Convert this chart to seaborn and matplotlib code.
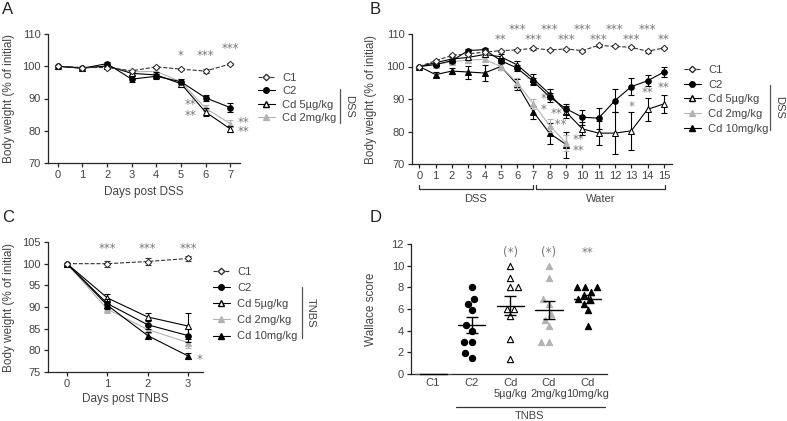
import numpy as np
import pandas as pd
import matplotlib
matplotlib.use("Agg")
import matplotlib.pyplot as plt
import matplotlib.transforms as mtransforms
from matplotlib.lines import Line2D
import seaborn as sns

# ---- data ----
# A: DSS, body weight (% of initial), mean and SEM
A_DAYS = [0, 1, 2, 3, 4, 5, 6, 7]
A_C1 = [100, 99.6, 99.6, 98.6, 99.8, 99.1, 98.5, 100.7]
A_C1_SEM = [0, 0.3, 0.3, 0.3, 0.3, 0.4, 0.5, 0.4]
A_C2 = [100, 99.4, 100.8, 96.0, 96.9, 95.2, 90.2, 87.2]
A_C2_SEM = [0, 0.4, 0.5, 1.0, 0.8, 0.8, 1.0, 1.5]
A_CD5 = [100, 99.4, 100.1, 97.8, 97.3, 94.6, 85.8, 80.6]
A_CD5_SEM = [0, 0.4, 0.4, 0.6, 0.8, 0.9, 1.3, 1.0]
A_CD2 = [100, 99.5, 100.0, 98.3, 98.4, 95.2, 87.0, 82.2]
A_CD2_SEM = [0, 0.3, 0.4, 0.5, 0.6, 0.8, 1.0, 1.0]

# B: DSS then water
B_DAYS = list(range(16))
B_C1 = [100, 101.8, 103.4, 103.9, 104.4, 104.9, 105.1, 105.6, 105.1, 105.4,
        104.9, 106.5, 106.2, 105.9, 104.7, 105.7]
B_C1_SEM = [0, 0.3, 0.3, 0.3, 0.3, 0.3, 0.3, 0.4, 0.3, 0.3, 0.3, 0.4, 0.3, 0.3, 0.4, 0.4]
B_C2 = [100, 100.6, 101.8, 104.9, 105.2, 101.8, 99.5, 95.4, 90.6, 87.0,
        84.4, 84.1, 89.5, 93.8, 95.6, 98.3]
B_C2_SEM = [0, 0.5, 0.6, 0.6, 0.6, 0.8, 1.0, 1.2, 1.4, 1.6, 2.3, 3.2, 3.5, 2.6, 1.7, 1.5]
B_CD5 = [100, 101.2, 102.3, 102.8, 103.7, 103.0, 100.5, 96.2, 91.5, 86.0,
         80.8, 79.5, 79.5, 80.2, 86.8, 88.5]
B_CD5_SEM = [0, 0.5, 0.5, 0.6, 0.7, 0.8, 1.2, 1.5, 1.5, 1.8, 2.0, 3.8, 6.5, 5.8, 3.5, 2.7]
B_CD2 = [100, 100.6, 101.5, 102.0, 102.2, 100.0, 95.0, 88.5, 81.8, 76.5]
B_CD2_SEM = [0, 0.5, 0.6, 0.8, 0.8, 0.8, 1.5, 1.5, 2.0, 2.5]
B_CD10 = [100, 97.5, 98.6, 98.3, 98.0, 100.0, 94.5, 86.0, 79.4, 76.0]
B_CD10_SEM = [0, 0.8, 1.0, 2.0, 2.5, 1.0, 1.8, 2.0, 3.2, 4.0]

# C: TNBS
C_DAYS = [0, 1, 2, 3]
C_C1 = [100, 100.0, 100.5, 101.2]
C_C1_SEM = [0, 0.7, 0.8, 0.5]
C_C2 = [100, 90.8, 85.9, 83.4]
C_C2_SEM = [0, 1.0, 1.0, 1.5]
C_CD5 = [100, 92.1, 87.7, 85.6]
C_CD5_SEM = [0, 1.0, 1.0, 3.0]
C_CD2 = [100, 89.5, 84.8, 81.8]
C_CD2_SEM = [0, 0.8, 0.8, 1.3]
C_CD10 = [100, 90.4, 83.4, 78.7]
C_CD10_SEM = [0, 0.8, 0.8, 0.8]

# D: Wallace score, individual animals
D_GROUPS = ["C1", "C2", "Cd5", "Cd2", "Cd10"]
D_TICKS = ["C1", "C2", "Cd\n5µg/kg", "Cd\n2mg/kg", "Cd\n10mg/kg"]
D_C1 = [0, 0, 0, 0, 0, 0]
D_C2 = [8.0, 6.95, 6.5, 5.9, 4.5, 4.0, 3.0, 3.0, 1.9, 1.5]
D_CD5 = [10.0, 8.9, 8.0, 8.0, 6.0, 6.0, 5.4, 3.2, 1.4]
D_CD2 = [10.0, 8.9, 6.9, 6.5, 5.5, 5.0, 4.4, 3.0, 3.0]
D_CD10 = [8.0, 8.0, 8.0, 7.6, 7.3, 6.9, 6.9, 6.5, 5.9, 4.4]

LABELS = {"C1": "C1", "C2": "C2", "Cd5": "Cd 5µg/kg",
          "Cd2": "Cd 2mg/kg", "Cd10": "Cd 10mg/kg"}

# ---- styling ----
W, H = 787, 421
TXT = "#444444"
STAR = "#777777"
GREY = "#b3b3b3"
FS = 8

STYLES = {
    "C1": dict(color="#333333", marker="D", markersize=3.3, markerfacecolor="white",
               markeredgecolor="#333333", linestyle="--"),
    "C2": dict(color="black", marker="o", markersize=4, markerfacecolor="black",
               markeredgecolor="black", linestyle="-"),
    "Cd5": dict(color="black", marker="^", markersize=4.5, markerfacecolor="white",
                markeredgecolor="black", linestyle="-"),
    "Cd2": dict(color=GREY, marker="^", markersize=4.5, markerfacecolor=GREY,
                markeredgecolor=GREY, linestyle="-"),
    "Cd10": dict(color="black", marker="^", markersize=4.5, markerfacecolor="black",
                 markeredgecolor="black", linestyle="-"),
}

sns.set_style("ticks")
plt.rcParams["font.family"] = ["Liberation Sans", "DejaVu Sans"]
plt.rcParams["axes.linewidth"] = 0.9
plt.rcParams["xtick.major.width"] = 0.9
plt.rcParams["ytick.major.width"] = 0.9
plt.rcParams["xtick.major.size"] = 3
plt.rcParams["ytick.major.size"] = 3

fig = plt.figure(figsize=(W / 100, H / 100), dpi=100)


def add_axes(left, top, right, bottom):
    return fig.add_axes([left / W, 1 - bottom / H, (right - left) / W, (bottom - top) / H])


def fig_xy(x, y):
    return x / W, 1 - y / H


def draw_series(ax, days, vals, sems, key, z):
    st = STYLES[key]
    sns.lineplot(x=days, y=vals, ax=ax, label=LABELS[key], linewidth=0.8,
                 zorder=z, legend=False, **st)
    ax.errorbar(days, vals, yerr=sems, fmt="none", ecolor=st["color"],
                elinewidth=0.8, capsize=2.5, capthick=0.8, zorder=z - 0.5)


def style_axes(ax, ylab_x, xlab_y=None):
    sns.despine(ax=ax)
    ax.tick_params(labelsize=FS, labelcolor=TXT, pad=2)
    ax.set_ylabel("Body weight (% of initial)", fontsize=8.5, color=TXT)
    ax.yaxis.set_label_coords(ylab_x, 0.5)
    if xlab_y is not None:
        ax.xaxis.set_label_coords(0.5, xlab_y)


def stars(ax, items, ha="center", ls=0.75):
    # stacked marks are one multi-line text so the rows sit tight
    for txt, x, y in items:
        ax.text(x, y, txt, ha=ha, va="center", fontsize=8.5, color=STAR,
                family="DejaVu Sans", linespacing=ls, multialignment="left",
                clip_on=False)


def legend(ax, keys, x, y, spacing):
    handles = []
    for k in keys:
        st = STYLES[k]
        handles.append(Line2D([], [], lw=0.8, **st))
    ax.legend(handles=handles, labels=[LABELS[k] for k in keys], loc="upper left",
              bbox_to_anchor=fig_xy(x, y), bbox_transform=fig.transFigure,
              frameon=False, fontsize=FS, handlelength=1.5, handletextpad=0.7,
              labelspacing=spacing, borderpad=0, borderaxespad=0, labelcolor=TXT)


def side_bracket(x, y0, y1, text):
    fig.add_artist(Line2D([x / W, x / W], [1 - y0 / H, 1 - y1 / H],
                          transform=fig.transFigure, color="#555555", lw=0.9))
    fx, fy = fig_xy(x + 9, (y0 + y1) / 2)
    fig.text(fx, fy, text, rotation=270, ha="center", va="center",
             fontsize=FS, color=TXT)


# ---- A ----
axA = add_axes(48, 34, 240, 163)
draw_series(axA, A_DAYS, A_CD2, A_CD2_SEM, "Cd2", 3)
draw_series(axA, A_DAYS, A_CD5, A_CD5_SEM, "Cd5", 4)
draw_series(axA, A_DAYS, A_C2, A_C2_SEM, "C2", 5)
draw_series(axA, A_DAYS, A_C1, A_C1_SEM, "C1", 6)
axA.set_xlim(-0.4, 7.4)
axA.set_ylim(70, 110)
axA.set_xticks(A_DAYS)
axA.set_yticks([70, 80, 90, 100, 110])
axA.set_xlabel("Days post DSS", fontsize=8.5, color=TXT)
style_axes(axA, -0.17, -0.18)
stars(axA, [("*", 5, 103.3), ("***", 6, 103.3), ("***", 7, 105.5),
            ("**\n**", 5.37, 86.4)], ls=0.85)
stars(axA, [("**\n**", 7.55, 81.2)], ls=0.65)
legend(axA, ["C1", "C2", "Cd5", "Cd2"], 258, 73, 0.3)
side_bracket(340, 89, 123, "DSS")

# ---- B ----
axB = add_axes(412, 34, 672, 164)
draw_series(axB, B_DAYS[:len(B_CD10)], B_CD10, B_CD10_SEM, "Cd10", 3)
draw_series(axB, B_DAYS[:len(B_CD2)], B_CD2, B_CD2_SEM, "Cd2", 3.5)
draw_series(axB, B_DAYS, B_CD5, B_CD5_SEM, "Cd5", 4)
draw_series(axB, B_DAYS, B_C2, B_C2_SEM, "C2", 5)
draw_series(axB, B_DAYS, B_C1, B_C1_SEM, "C1", 6)
axB.set_xlim(-0.45, 15.5)
axB.set_ylim(70, 110)
axB.set_xticks(B_DAYS)
axB.set_yticks([70, 80, 90, 100, 110])
style_axes(axB, -0.135)
top_row = [("***", d, 111.4) for d in (6, 8, 10, 12, 14)]
second_row = [("**", 5, 108.2)] + [("***", d, 108.2) for d in (7, 9, 11, 13)] + [("**", 15, 108.2)]
stars(axB, top_row + second_row + [
    ("**\n**", 9.75, 75.8), ("*", 13, 87.8), ("**", 14, 91.9), ("**", 15, 93.6)])
stars(axB, [("**\n*", 7.42, 88.6), ("**\n **", 8.05, 83.7)], ha="left", ls=0.8)
blend = mtransforms.blended_transform_factory(axB.transData, axB.transAxes)
for x0, x1, lab in [(0, 6.95, "DSS"), (7.15, 15.05, "Water")]:
    axB.plot([x0, x0, x1, x1], [-0.16, -0.19, -0.19, -0.16], transform=blend,
             color="#333333", lw=0.9, clip_on=False)
    axB.text((x0 + x1) / 2, -0.27, lab, transform=blend, ha="center",
             va="center", fontsize=FS, color=TXT)
legend(axB, ["C1", "C2", "Cd5", "Cd2", "Cd10"], 684, 65, 0.42)
side_bracket(770, 85, 130, "DSS")

# ---- C ----
axC = add_axes(48, 242, 203, 372)
draw_series(axC, C_DAYS, C_CD2, C_CD2_SEM, "Cd2", 3)
draw_series(axC, C_DAYS, C_CD10, C_CD10_SEM, "Cd10", 3.5)
draw_series(axC, C_DAYS, C_CD5, C_CD5_SEM, "Cd5", 4)
draw_series(axC, C_DAYS, C_C2, C_C2_SEM, "C2", 5)
draw_series(axC, C_DAYS, C_C1, C_C1_SEM, "C1", 6)
axC.set_xlim(-0.47, 3.37)
axC.set_ylim(75, 105)
axC.set_xticks(C_DAYS)
axC.set_yticks([75, 80, 85, 90, 95, 100, 105])
axC.set_xlabel("Days post TNBS", fontsize=8.5, color=TXT)
style_axes(axC, -0.213, -0.16)
stars(axC, [("***", 1, 103.4), ("***", 2, 103.4), ("***", 3, 103.4),
            ("*", 3.28, 78.0)])
legend(axC, ["C1", "C2", "Cd5", "Cd2", "Cd10"], 213, 267, 0.55)
side_bracket(302, 287, 338, "TNBS")

# ---- D ----
axD = add_axes(411, 244, 607, 374)
d_values = {"C1": D_C1, "C2": D_C2, "Cd5": D_CD5, "Cd2": D_CD2, "Cd10": D_CD10}
d_df = pd.DataFrame([(g, v) for g in D_GROUPS for v in d_values[g]],
                    columns=["group", "score"])
d_marker = {"C1": ("_", "#555555", "#555555"), "C2": ("o", "black", "black"),
            "Cd5": ("^", "white", "black"), "Cd2": ("^", GREY, GREY),
            "Cd10": ("^", "black", "black")}
for g in D_GROUPS:
    m, fc, ec = d_marker[g]
    sns.swarmplot(data=d_df[d_df.group == g], x="group", y="score", order=D_GROUPS,
                  marker=m, color=fc, edgecolor=ec, linewidth=0.8, size=4.5,
                  ax=axD, clip_on=False, zorder=3)
for i, g in enumerate(D_GROUPS):
    vals = np.array(d_values[g], dtype=float)
    mean = vals.mean()
    sem = vals.std(ddof=1) / np.sqrt(len(vals))
    axD.plot([i - 0.35, i + 0.35], [mean, mean], color="black", lw=1.0,
             zorder=4, clip_on=False)
    if sem > 0:
        axD.errorbar(i, mean, yerr=sem, fmt="none", ecolor="black", elinewidth=1.0,
                     capsize=4, capthick=1.0, zorder=4)
axD.set_xlim(-0.57, 4.5)
axD.set_ylim(0, 12)
axD.set_yticks(range(0, 13, 2))
axD.set_xticks(range(len(D_GROUPS)))
axD.set_xticklabels(D_TICKS, linespacing=1.1)
axD.set_xlabel("")
sns.despine(ax=axD)
axD.tick_params(labelsize=FS, labelcolor=TXT, pad=2)
axD.tick_params(axis="x", length=0, pad=3)
axD.set_ylabel("Wallace score", fontsize=8.5, color=TXT)
axD.yaxis.set_label_coords(-0.173, 0.5)
stars(axD, [("(*)", 2, 11.2), ("(*)", 3, 11.2), ("**", 4, 11.2)])
blendD = mtransforms.blended_transform_factory(axD.transData, axD.transAxes)
axD.plot([0.6, 4.45], [-0.254, -0.254], transform=blendD, color="#333333",
         lw=0.9, clip_on=False)
axD.text(2.5, -0.32, "TNBS", transform=blendD, ha="center", va="center",
         fontsize=FS, color=TXT)

# ---- panel letters ----
for lab, x, y in [("A", 2, 2), ("B", 370, 2), ("C", 2, 210), ("D", 370, 210)]:
    fx, fy = fig_xy(x, y)
    fig.text(fx, fy, lab, ha="left", va="top", fontsize=12, color="#222222")

fig.savefig("out.png", dpi=100)
plt.close(fig)
